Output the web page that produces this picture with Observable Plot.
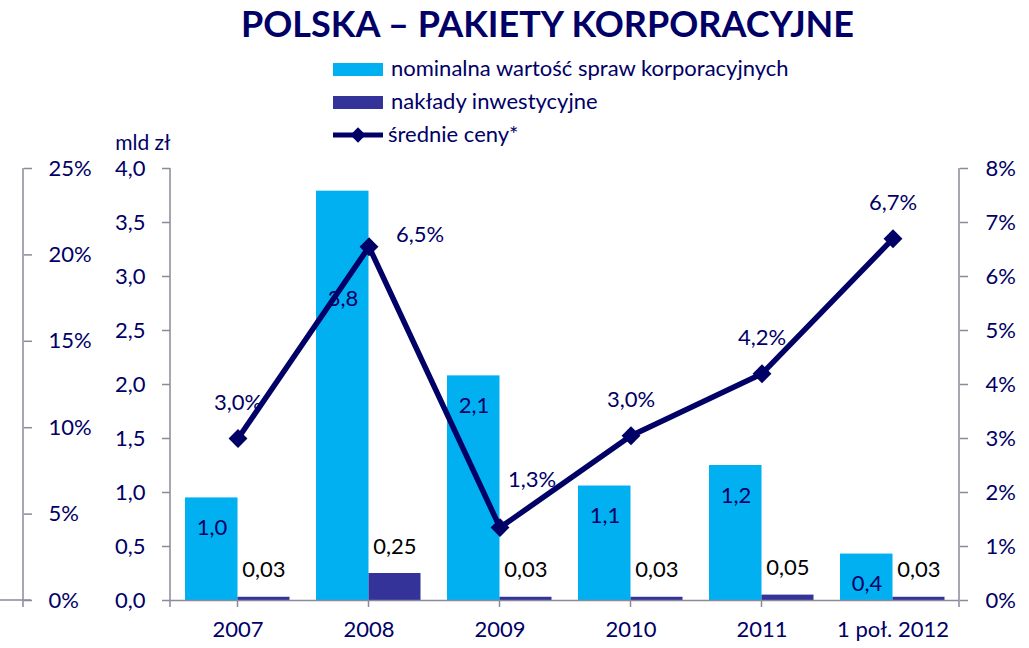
<!DOCTYPE html>
<html><head><meta charset="utf-8">
<script src="https://cdn.jsdelivr.net/npm/d3@7"></script>
<script src="https://cdn.jsdelivr.net/npm/@observablehq/plot@0.6"></script>
<style>
body{margin:0;background:#fff;font-family:Lato,"Open Sans",sans-serif;}
#wrap{position:relative;width:1029px;height:648px;overflow:hidden;}
#title{position:absolute;left:241px;top:0;white-space:nowrap;font-weight:bold;font-size:36px;color:#000066;line-height:46px;}
#chart{position:absolute;left:0;top:48px;}
#legend{position:absolute;left:333px;top:52px;font-size:22px;color:#000066;}
.row{position:relative;height:33px;}
.sw{position:absolute;left:0;top:11px;width:50px;height:13px;}
.lt{position:absolute;left:58px;top:2px;white-space:nowrap;line-height:28px;}
</style></head>
<body><div id="wrap">
<div id="title">POLSKA – PAKIETY KORPORACYJNE</div>
<div id="chart"></div>
<div id="legend"></div>
</div>
<script>
const categories = ["2007","2008","2009","2010","2011","1 poł. 2012"];
const nominalValues = [0.95,3.79,2.08,1.06,1.25,0.43];
const nominalLabels = ["1,0","3,8","2,1","1,1","1,2","0,4"];
const investmentValues = [0.03,0.25,0.03,0.03,0.05,0.03];
const investmentLabels = ["0,03","0,25","0,03","0,03","0,05","0,03"];
const avgPrices = [3.0,6.55,1.35,3.05,4.2,6.7];
const avgPriceLabels = ["3,0%","6,5%","1,3%","3,0%","4,2%","6,7%"];
const seriesNames = ["nominalna wartość spraw korporacyjnych","nakłady inwestycyjne","średnie ceny*"];
const mldTicks = [0,0.5,1,1.5,2,2.5,3,3.5,4];
const farLeftPctTicks = [0,5,10,15,20,25];
const rightPctTicks = [0,1,2,3,4,5,6,7,8];
const unitLabel = "mld zł";

const colNom = "#00B0F0", colInv = "#333399", colLine = "#000066", colText = "#000066", colAxis = "#8A8A9A";
const RIGHT_MAX = 8, FARLEFT_MAX = 25, MLD_MAX = 4;

const data = categories.map((c,i)=>({cat:c, nom:nominalValues[i], nomL:nominalLabels[i], inv:investmentValues[i], invL:investmentLabels[i], price:avgPrices[i], priceL:avgPriceLabels[i]}));
const pY = d => d.price * MLD_MAX / RIGHT_MAX;
const fmtComma = d => d.toFixed(1).replace(".", ",");

const chart = Plot.plot({
  width:1029, height:600, marginLeft:170, marginRight:70, marginTop:120, marginBottom:48,
  style:{fontFamily:"Lato, 'Open Sans', sans-serif", fontSize:"22px", color:colText, background:"#fff", overflow:"visible"},
  x:{domain:categories, padding:0, axis:null, label:null},
  y:{domain:[0,MLD_MAX], axis:null, label:null},
  marks:[
    Plot.barY(data,{x:"cat", y:"nom", fill:colNom, insetLeft:13, insetRight:65.5}),
    Plot.barY(data,{x:"cat", y:"inv", fill:colInv, insetLeft:65.5, insetRight:13.5}),
    Plot.ruleY([0],{stroke:colAxis, strokeWidth:1.5}),
    Plot.axisX({anchor:"bottom", label:null, tickSize:0, tickPadding:21, fontSize:22, fill:colText}),
    Plot.axisY(mldTicks,{anchor:"left", label:null, tickSize:8, tickPadding:17, tickFormat:fmtComma, stroke:colAxis, strokeWidth:1.5, fill:colText, fontSize:22}),
    Plot.axisY(rightPctTicks.map(p=>p*MLD_MAX/RIGHT_MAX),{anchor:"right", label:null, tickSize:8, tickPadding:18, tickFormat:d=>Math.round(d*RIGHT_MAX/MLD_MAX)+"%", stroke:colAxis, strokeWidth:1.5, fill:colText, fontSize:22}),
    Plot.axisY(farLeftPctTicks.map(p=>p*MLD_MAX/FARLEFT_MAX),{anchor:"right", label:null, dx:-936, tickSize:8, tickPadding:17, tickFormat:d=>Math.round(d*FARLEFT_MAX/MLD_MAX)+"%", stroke:colAxis, strokeWidth:1.5, fill:colText, fontSize:22}),
    Plot.text([unitLabel],{frameAnchor:"top-left", textAnchor:"end", dy:-33, fill:colText, fontSize:21}),
    Plot.text(data.filter(d=>d.cat!=="2008"),{x:"cat", y:"nom", text:"nomL", dx:-26, dy:30, fill:colText, fontSize:22}),
    Plot.text(data.filter(d=>d.cat==="2008"),{x:"cat", y:"nom", text:"nomL", dx:-26, dy:108, fill:colText, fontSize:22}),
    Plot.text(data,{x:"cat", y:"inv", text:"invL", dx:26, dy:-27, fill:"#000", fontSize:22}),
    Plot.line(data,{x:"cat", y:pY, stroke:colLine, strokeWidth:5.5}),
    Plot.dot(data,{x:"cat", y:pY, symbol:"diamond2", r:8.5, fill:colLine, stroke:"none"}),
    Plot.text(data.filter(d=>d.cat!=="2008" && d.cat!=="2009"),{x:"cat", y:pY, text:"priceL", dy:-36, fill:colText, fontSize:22}),
    Plot.text(data.filter(d=>d.cat==="2008"),{x:"cat", y:pY, text:"priceL", dx:51, dy:-12, fill:colText, fontSize:22}),
    Plot.text(data.filter(d=>d.cat==="2009"),{x:"cat", y:pY, text:"priceL", dx:32, dy:-48, fill:colText, fontSize:22})
  ]
});
document.getElementById("chart").appendChild(chart);

// axis lines and category boundary ticks
const svg = d3.select(chart);
const xs = chart.scale("x"), ys = chart.scale("y");
const y0 = ys.apply(0), yTop = ys.apply(MLD_MAX);
const xL = xs.range[0], xR = xs.range[1];
const g = svg.append("g").attr("stroke", colAxis).attr("stroke-width", 1.5);
[xL, xR, 23].forEach(x => g.append("line").attr("x1",x).attr("x2",x).attr("y1",yTop).attr("y2",y0+7));
g.append("line").attr("x1",0).attr("x2",31).attr("y1",y0).attr("y2",y0);
categories.forEach(c => { const x = xs.apply(c) - xs.bandwidth/2; if (x > xL + 1) g.append("line").attr("x1",x).attr("x2",x).attr("y1",y0).attr("y2",y0+7); });

// legend
const leg = d3.select("#legend");
seriesNames.forEach((n,i)=>{
  const r = leg.append("div").attr("class","row");
  if (i<2) r.append("div").attr("class","sw").style("background", i===0?colNom:colInv);
  else {
    const s = r.append("svg").attr("width",56).attr("height",33).style("position","absolute").style("left","0px").style("top","0px");
    s.append("line").attr("x1",0).attr("x2",50).attr("y1",17).attr("y2",17).attr("stroke",colLine).attr("stroke-width",5);
    s.append("path").attr("d",d3.symbol(d3.symbolDiamond2, 150)()).attr("transform","translate(25,17)").attr("fill",colLine);
  }
  r.append("div").attr("class","lt").style("left", i<2?"58px":"55px").text(n);
});
</script>
</body></html>
